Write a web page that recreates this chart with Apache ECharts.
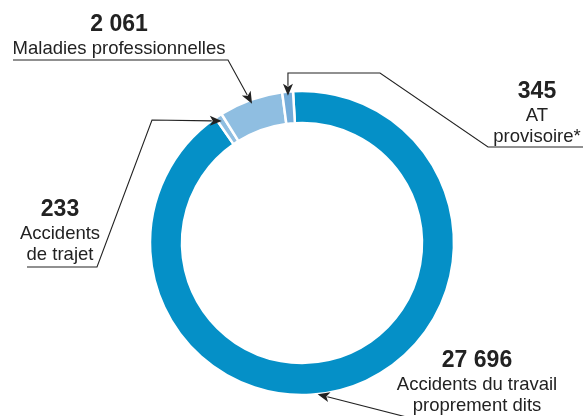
<!DOCTYPE html>
<html>
<head>
<meta charset="utf-8">
<script src="https://cdn.jsdelivr.net/npm/echarts@6/dist/echarts.min.js"></script>
<style>
  html, body { margin: 0; padding: 0; background: #fff; }
  #chart { width: 583px; height: 416px; }
</style>
</head>
<body>
<div id="chart"></div>
<script>
// données
const names = ["Accidents du travail\nproprement dits", "Accidents\nde trajet", "Maladies professionnelles", "AT\nprovisoire*"];
const values = [27696, 233, 2061, 345];
const colors = ["#0590c7", "#8fbee1", "#8fbee1", "#74acd9"];

// mise en page des étiquettes (pas des données)
const labelPos = [[477, 347], [60, 196], [119, 11], [537, 78]];
const leaderPts = [
  [[422, 421]],
  [[27, 267], [97, 267], [152, 120]],
  [[13, 60], [228, 60]],
  [[583, 147], [488, 147], [380, 73]]
];
const arrowAt = [0.54, 0.5, 0.5, 0.5];  // position de la flèche le long de la part
const arrowR = [152, 146, 148, 148];

const CENTER = [302, 243];
const R_IN = 120, R_OUT = 152;
const START = 93.4;

function fmt(v) {
  return String(v).replace(/\B(?=(\d{3})+(?!\d))/g, " ");
}

// angle de la flèche pour chaque part
const total = values.reduce((a, b) => a + b, 0);
let acc = START;
const tips = values.map((v, i) => {
  const span = v / total * 360;
  const ang = (acc - span * arrowAt[i]) * Math.PI / 180;
  acc -= span;
  return [CENTER[0] + arrowR[i] * Math.cos(ang), CENTER[1] - arrowR[i] * Math.sin(ang)];
});

const graphics = [];
leaderPts.forEach((pts, i) => {
  const tip = tips[i];
  const p = pts.slice();
  if (i === 3) p.push([tip[0], 73]);
  const prev = p[p.length - 1];
  const dx = tip[0] - prev[0], dy = tip[1] - prev[1];
  const len = Math.sqrt(dx * dx + dy * dy);
  const ux = dx / len, uy = dy / len;
  const L = 12, W = 5;
  const bx = tip[0] - ux * L, by = tip[1] - uy * L;
  graphics.push({
    type: "polyline",
    shape: { points: p.concat([[bx + ux * 2, by + uy * 2]]) },
    style: { stroke: "#222", lineWidth: 1.1, fill: null },
    z: 10
  });
  graphics.push({
    type: "polygon",
    shape: { points: [tip, [bx - uy * W, by + ux * W], [bx + ux * 3, by + uy * 3], [bx + uy * W, by - ux * W]] },
    style: { fill: "#222" },
    z: 10
  });
});

const chart = echarts.init(document.getElementById("chart"));
chart.setOption({
  animation: false,
  graphic: graphics,
  series: [{
    type: "pie",
    center: CENTER,
    radius: [R_IN, R_OUT],
    startAngle: START,
    clockwise: true,
    avoidLabelOverlap: false,
    silent: true,
    itemStyle: { borderColor: "#fff", borderWidth: 2.5 },
    label: {
      show: true,
      position: "outside",
      color: "#222",
      fontFamily: "Liberation Sans, Arial, sans-serif",
      formatter: function (p) {
        return "{v|" + fmt(p.value) + "}\n" + p.name.split("\n").map(s => "{n|" + s + "}").join("\n");
      },
      rich: {
        v: { fontSize: 23, fontWeight: "bold", lineHeight: 27, color: "#222", align: "center",
             fontFamily: "Liberation Sans, Arial, sans-serif" },
        n: { fontSize: 18.5, lineHeight: 21, color: "#222", align: "center",
             fontFamily: "Liberation Sans, Arial, sans-serif" }
      }
    },
    labelLine: { show: false },
    labelLayout: function (params) {
      const pos = labelPos[params.dataIndex];
      return { x: pos[0], y: pos[1], align: "center", verticalAlign: "top" };
    },
    data: values.map((v, i) => ({ value: v, name: names[i], itemStyle: { color: colors[i] } }))
  }]
});
</script>
</body>
</html>
